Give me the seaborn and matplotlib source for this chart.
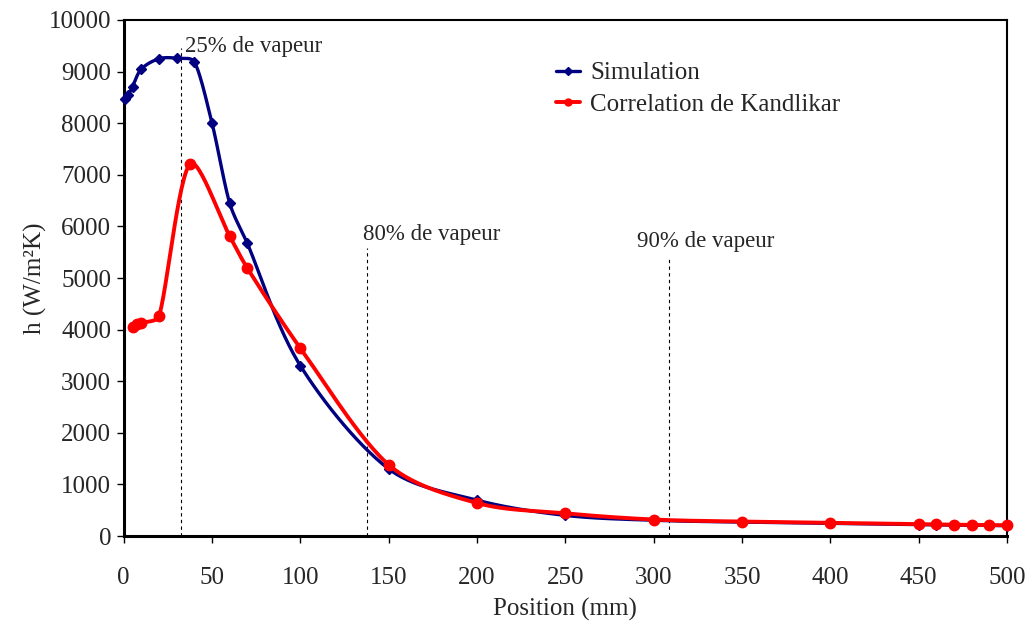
import numpy as np
import pandas as pd
import matplotlib
matplotlib.use("Agg")
import matplotlib.pyplot as plt
from matplotlib.lines import Line2D
import seaborn as sns

# --- data ---
sim_x = [1, 2.5, 5, 10, 20, 30, 40, 50, 60, 70, 100, 150, 200, 250, 300, 350, 400, 450, 460, 470, 480, 490, 500]
sim_h = [8470, 8540, 8710, 9050, 9250, 9260, 9190, 8000, 6450, 5670, 3300, 1300, 695, 400, 305, 270, 245, 220, 215, 212, 208, 205, 200]

kand_x = [5, 7.5, 10, 20, 37.5, 60, 70, 100, 150, 200, 250, 300, 350, 400, 450, 460, 470, 480, 490, 500]
kand_h = [4060, 4110, 4130, 4260, 7210, 5810, 5190, 3640, 1380, 640, 440, 320, 280, 255, 232, 225, 220, 215, 212, 210]

vapeur_labels = ["25% de vapeur", "80% de vapeur", "90% de vapeur"]
vapeur_x = [32.4, 137.7, 308.8]
vapeur_top = [9450, 5580, 5360]

XMAX, YMAX = 500, 10000


def smooth(x, y, n=30):
    # smoothed line like a spreadsheet chart: Catmull-Rom Bezier,
    # tangents shortened next to short segments so nothing overshoots much
    sx = np.asarray(x, float) / XMAX * 884
    sy = np.asarray(y, float) / YMAX * 516
    p = np.column_stack([sx, sy])
    m = len(p)
    seglen = np.linalg.norm(np.diff(p, axis=0), axis=1)
    c_out = np.zeros_like(p)
    c_in = np.zeros_like(p)
    for i in range(m):
        a = p[max(i - 1, 0)]
        b = p[min(i + 1, m - 1)]
        T = (b - a) / 2
        lin = seglen[i - 1] if i > 0 else seglen[0]
        lout = seglen[i] if i < m - 1 else seglen[-1]
        s_in = min(1.0, 2 * lin / (lin + lout))
        s_out = min(1.0, 2 * lout / (lin + lout))
        c_out[i] = p[i] + T / 3 * s_out
        c_in[i] = p[i] - T / 3 * s_in
    out = []
    t = np.linspace(0, 1, n)[:, None]
    for i in range(m - 1):
        p1, p2 = p[i], p[i + 1]
        c1, c2 = c_out[i], c_in[i + 1]
        seg = (1 - t) ** 3 * p1 + 3 * (1 - t) ** 2 * t * c1 + 3 * (1 - t) * t ** 2 * c2 + t ** 3 * p2
        out.append(seg if i == 0 else seg[1:])
    out = np.vstack(out)
    return pd.DataFrame({"x": out[:, 0] / 884 * XMAX, "h": out[:, 1] / 516 * YMAX})


sns.set_theme(style="white")
plt.rcParams["font.family"] = ["Liberation Serif", "DejaVu Serif"]

fig = plt.figure(figsize=(10.30, 6.23), dpi=100)
ax = fig.add_axes([0.1201, 0.1396, 0.8576, 0.8283])

navy = "#000080"
red = "#FF0000"

sim_df = pd.DataFrame({"x": sim_x, "h": sim_h})
kand_df = pd.DataFrame({"x": kand_x, "h": kand_h})

sns.lineplot(data=smooth(sim_x, sim_h), x="x", y="h", sort=False, color=navy, lw=2.4, ax=ax, zorder=3)
sns.lineplot(data=smooth(kand_x, kand_h), x="x", y="h", sort=False, color=red, lw=2.8, ax=ax, zorder=4)
ax.plot(sim_df["x"], sim_df["h"], ls="none", marker="D", ms=5, color=navy, zorder=3, clip_on=False)
ax.plot(kand_df["x"], kand_df["h"], ls="none", marker="o", ms=7.5, color=red, zorder=4, clip_on=False)

for xv, top in zip(vapeur_x, vapeur_top):
    ax.plot([xv, xv], [0, top], ls=(0, (3, 3)), color="black", lw=0.8, zorder=2)

ax.text(34.5, 9380, vapeur_labels[0], fontsize=16.5, va="baseline", ha="left")
ax.text(135.5, 5736, vapeur_labels[1], fontsize=16.5, va="baseline", ha="left")
ax.text(290.5, 5607, vapeur_labels[2], fontsize=16.5, va="baseline", ha="left")

ax.set_xlim(0, XMAX)
ax.set_ylim(0, YMAX)
ax.set_xticks(range(0, 501, 50))
ax.set_yticks(range(0, 10001, 1000))
ax.tick_params(axis="both", direction="out", length=5, width=1, labelsize=18, color="black",
               bottom=True, left=True)
ax.tick_params(axis="x", pad=17)
ax.tick_params(axis="y", pad=4)
for side in ["left", "bottom"]:
    ax.spines[side].set_linewidth(2.2)
for side in ["top", "right"]:
    ax.spines[side].set_linewidth(1.5)
for s in ax.spines.values():
    s.set_color("black")

ax.set_xlabel("Position (mm)", fontsize=18, labelpad=7)
ax.set_ylabel("h (W/m²K)", fontsize=18, labelpad=1)

handles = [
    Line2D([], [], color=navy, lw=2.4, marker="D", ms=4),
    Line2D([], [], color=red, lw=2.8, marker="o", ms=5),
]
ax.legend(handles, ["Simulation", "Correlation de Kandlikar"], loc="upper left",
          bbox_to_anchor=(0.4755, 0.943), frameon=False, fontsize=18, handlelength=0.95,
          handletextpad=0.4, labelspacing=0.35, borderpad=0)

fig.savefig("out.png", dpi=100)
